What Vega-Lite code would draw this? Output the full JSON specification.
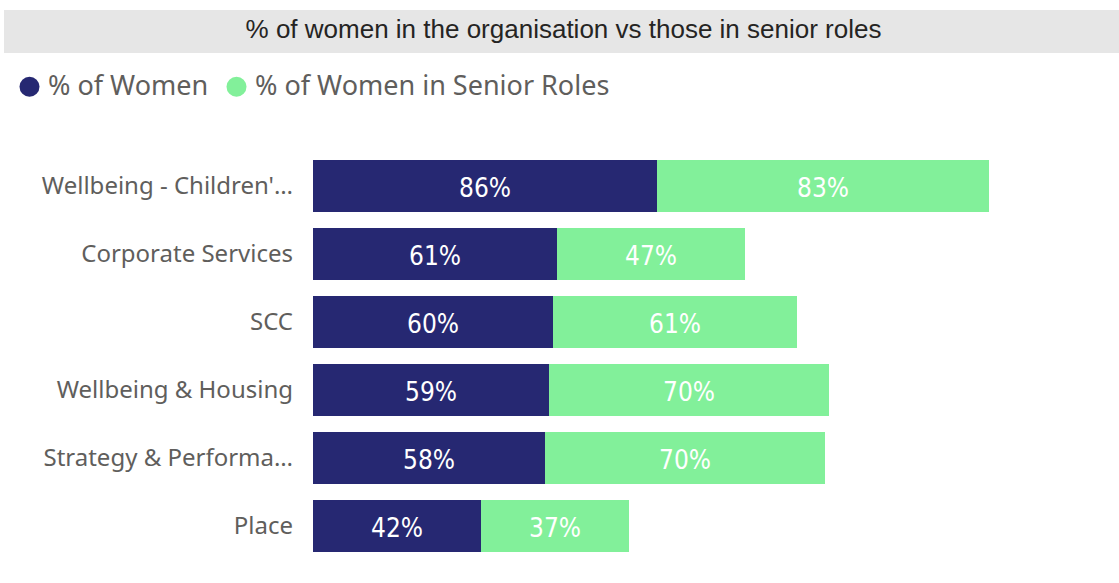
{
  "$schema": "https://vega.github.io/schema/vega-lite/v6.json",
  "padding": {"left": 4, "top": 10, "right": 0, "bottom": 0},
  "background": "white",
  "spacing": 0,
  "config": {"view": {"stroke": null}},
  "resolve": {"scale": {"color": "independent"}, "legend": {"color": "independent"}},
  "vconcat": [
    {
      "width": 1115,
      "height": 43,
      "view": {"fill": "#e6e6e6", "stroke": null},
      "data": {"values": [{"title": "% of women in the organisation vs those in senior roles"}]},
      "mark": {"type": "text", "font": "Liberation Sans", "fontSize": 26, "color": "#252423", "dy": -2, "dx": 2},
      "encoding": {"text": {"field": "title", "type": "nominal"}}
    },
    {
      "width": 1115,
      "height": 514,
      "data": {
        "values": [
          {"dept": "Wellbeing - Children's Services", "measure": "% of Women", "value": 0.86},
          {"dept": "Wellbeing - Children's Services", "measure": "% of Women in Senior Roles", "value": 0.83},
          {"dept": "Corporate Services", "measure": "% of Women", "value": 0.61},
          {"dept": "Corporate Services", "measure": "% of Women in Senior Roles", "value": 0.47},
          {"dept": "SCC", "measure": "% of Women", "value": 0.60},
          {"dept": "SCC", "measure": "% of Women in Senior Roles", "value": 0.61},
          {"dept": "Wellbeing & Housing", "measure": "% of Women", "value": 0.59},
          {"dept": "Wellbeing & Housing", "measure": "% of Women in Senior Roles", "value": 0.70},
          {"dept": "Strategy & Performance", "measure": "% of Women", "value": 0.58},
          {"dept": "Strategy & Performance", "measure": "% of Women in Senior Roles", "value": 0.70},
          {"dept": "Place", "measure": "% of Women", "value": 0.42},
          {"dept": "Place", "measure": "% of Women in Senior Roles", "value": 0.37}
        ]
      },
      "transform": [
        {"stack": "value", "groupby": ["dept"], "sort": [{"field": "measure", "order": "ascending"}], "as": ["v0", "v1"]},
        {"calculate": "(datum.v0 + datum.v1) / 2", "as": "mid"}
      ],
      "encoding": {
        "y": {
          "field": "dept",
          "type": "nominal",
          "sort": ["Wellbeing - Children's Services", "Corporate Services", "SCC", "Wellbeing & Housing", "Strategy & Performance", "Place"],
          "scale": {"paddingInner": 0.235, "paddingOuter": 0.897, "align": 0.877},
          "axis": null
        }
      },
      "layer": [
        {
          "mark": {"type": "bar"},
          "encoding": {
            "x": {"field": "v0", "type": "quantitative", "scale": {"domain": [-0.7725, 2.015], "nice": false, "zero": false}, "axis": null},
            "x2": {"field": "v1"},
            "color": {
              "field": "measure",
              "type": "nominal",
              "scale": {"domain": ["% of Women", "% of Women in Senior Roles"], "range": ["#262872", "#82F09A"]},
              "legend": {
                "title": null,
                "orient": "none",
                "legendX": 12,
                "legendY": 20,
                "padding": 0,
                "direction": "horizontal",
                "symbolType": "circle",
                "symbolSize": 400,
                "symbolOpacity": 1,
                "symbolStrokeWidth": 0,
                "labelFont": "Noto Sans",
                "labelFontSize": 27,
                "labelColor": "#605E5C",
                "labelOffset": 5,
                "columnPadding": 14,
                "labelLimit": 500
              }
            }
          }
        },
        {
          "mark": {"type": "text", "color": "white", "font": "Liberation Sans Narrow, DejaVu Sans Condensed", "fontSize": 26, "baseline": "middle", "dy": 3},
          "encoding": {
            "x": {"field": "mid", "type": "quantitative"},
            "text": {"field": "value", "type": "quantitative", "format": ".0%"},
            "detail": {"field": "measure"}
          }
        },
        {
          "transform": [{"filter": "datum.measure === '% of Women'"}],
          "mark": {"type": "text", "align": "right", "baseline": "middle", "dx": -20, "dy": 1, "limit": 252, "font": "Noto Sans", "fontSize": 24, "color": "#605E5C"},
          "encoding": {
            "x": {"datum": 0},
            "text": {"field": "dept", "type": "nominal"}
          }
        }
      ]
    }
  ]
}
